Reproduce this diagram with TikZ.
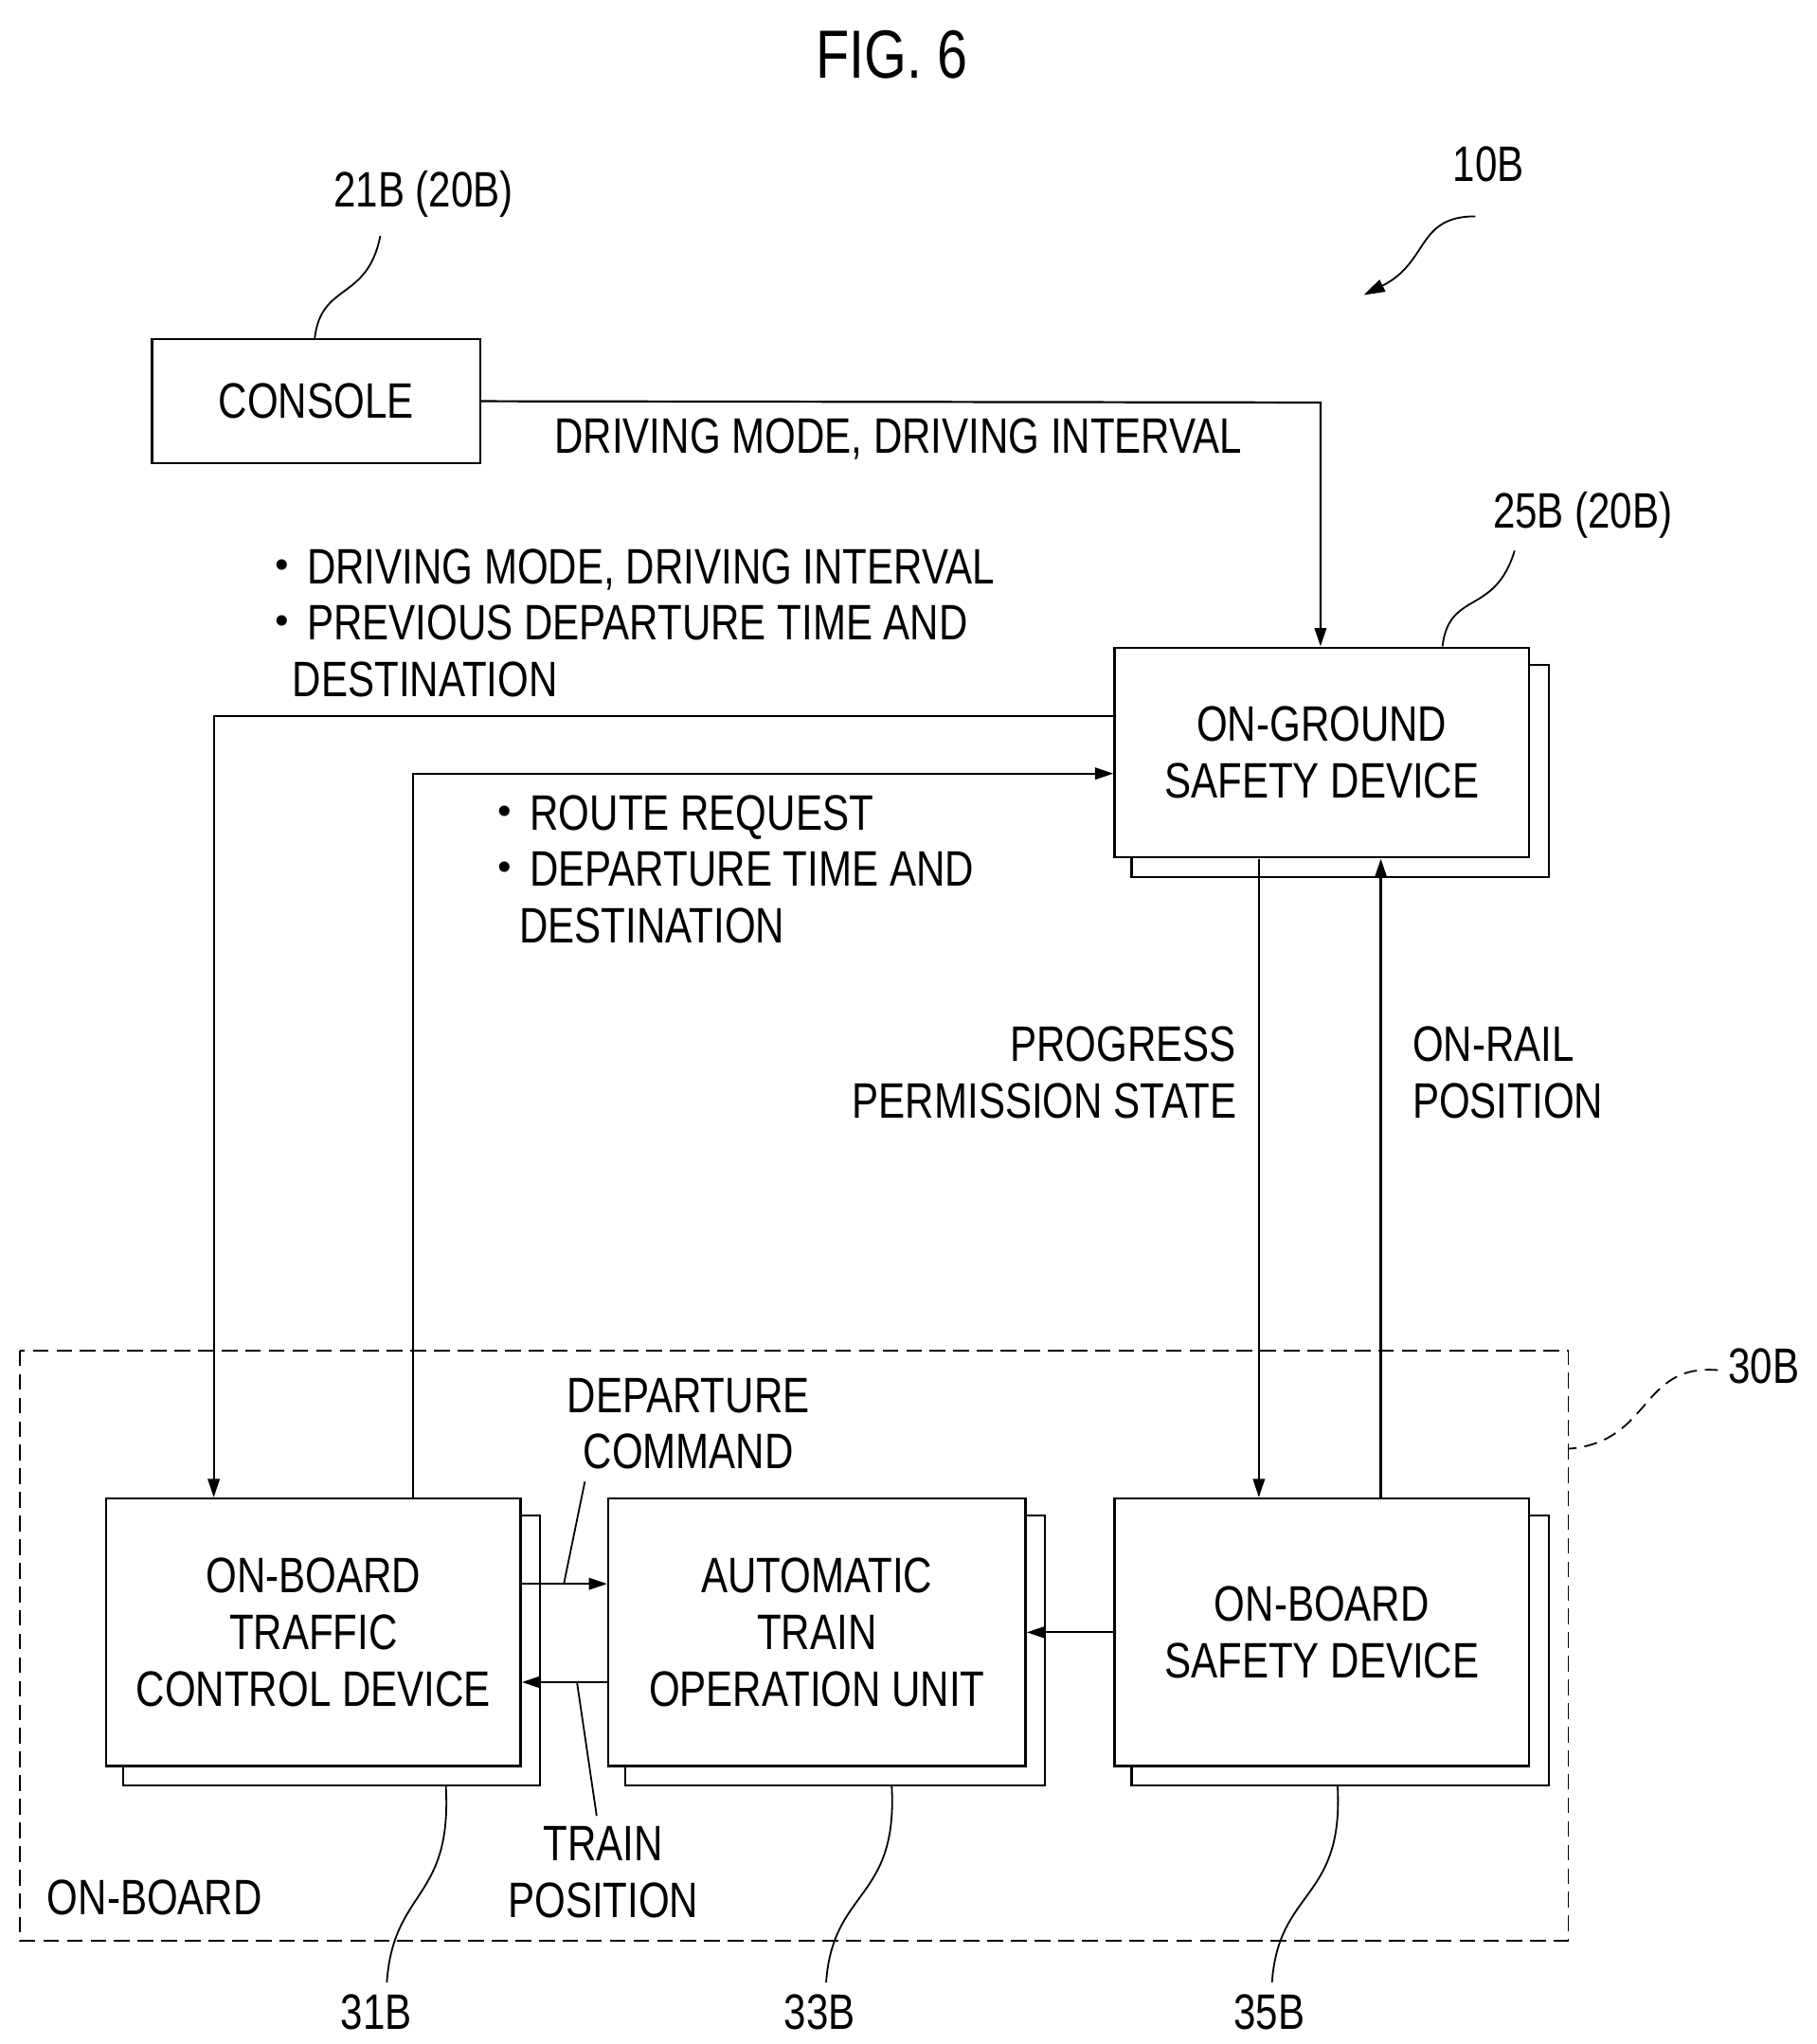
\documentclass[tikz,border=0pt]{standalone}
\usepackage{fontspec}
\setmainfont{Liberation Sans}[FakeStretch=0.8]
\newfontfamily\cjk{Noto Sans CJK JP}
\newcommand{\bul}{{\cjk ・}}
\usetikzlibrary{arrows.meta}
\begin{document}
\begin{tikzpicture}[x=1pt,y=-1pt,
  ln/.style={line width=1.6pt},
  arr/.style={ln,-{Triangle[length=14pt,width=9pt]}},
  txt/.style={font=\fontsize{38}{43}\selectfont,inner sep=0pt,align=center},
  box/.style={draw,line width=1.6pt,fill=white,font=\fontsize{38}{43}\selectfont,align=center,inner sep=0pt},
  lead/.style={line width=1.3pt}]
\useasboundingbox (0,0) rectangle (1385,1559);
\node[font=\fontsize{52}{56}\selectfont] (title) at (680,42) {FIG. 6};
\node[txt] (l10) at (1135,125) {10B};
\coordinate (a10s) at (1125,165); \coordinate (a10e) at (1040,225);
\draw[lead,-{Triangle[length=16pt,width=10pt]}] (a10s) .. controls (1080,165) and (1090,200) .. (a10e);
% console
\node[txt] (l21) at (323,148) {21B (20B)};
\node[box,minimum width=250pt,minimum height=95pt] (con) at (241,306) {CONSOLE};
\coordinate (c21) at (290,180);
\draw[lead] (c21) .. controls (280,230) and (245,215) .. (240,258);
% on-ground
\node[txt] (l25) at (1207,393) {25B (20B)};
\draw[ln] (863,507) rectangle (1181,669);
\node[box,minimum width=316pt,minimum height=160pt] (og) at (1008,574) {ON-GROUND\\SAFETY DEVICE};
\draw[lead] (1155,420) .. controls (1140,470) and (1105,450) .. (1100,493);
\coordinate (k1) at (1007,307);
\draw[arr] (con.east) -- (k1) -- (1007,493);
\node[txt] (t1) at (685,335) {DRIVING MODE, DRIVING INTERVAL};
% on-board boxes
\draw[ln] (94,1156) rectangle (412,1362);
\node[box,minimum width=316pt,minimum height=204pt] (tc) at (239,1245) {ON-BOARD\\TRAFFIC\\CONTROL DEVICE};
\draw[ln] (477,1156) rectangle (797,1362);
\node[box,minimum width=318pt,minimum height=204pt] (ato) at (623,1245) {AUTOMATIC\\TRAIN\\OPERATION UNIT};
\draw[ln] (863,1156) rectangle (1181,1362);
\node[box,minimum width=316pt,minimum height=204pt] (obs) at (1008,1245) {ON-BOARD\\SAFETY DEVICE};
% lines to/from on-ground
\coordinate (p1) at (849,546); \coordinate (p2) at (163,546);
\draw[arr] (p1) -- (p2) -- (163,1142);
\node[txt,anchor=west,align=left] (t2) at (196,475) {\bul DRIVING MODE, DRIVING INTERVAL\\\bul PREVIOUS DEPARTURE TIME AND\\\hspace*{27pt}DESTINATION};
\coordinate (q1) at (315,1142); \coordinate (q2) at (315,590);
\draw[arr] (q1) -- (q2) -- (849,590);
\node[txt,anchor=west,align=left] (t3) at (366,663) {\bul ROUTE REQUEST\\\bul DEPARTURE TIME AND\\\hspace*{30pt}DESTINATION};
\coordinate (r1) at (960,655);
\draw[arr] (r1) -- (960,1142);
\node[txt,anchor=east,align=right] (t4) at (943,818) {PROGRESS\\PERMISSION STATE};
\coordinate (s1) at (1053,1142);
\draw[arr] (s1) -- (1053,655);
\node[txt,anchor=west,align=left] (t5) at (1077,818) {ON-RAIL\\POSITION};
% dashed frame
\draw[lead,dashed,dash pattern=on 12pt off 6pt] (15,1030) rectangle (1196,1480);
\node[txt] (ob) at (118,1447) {ON-BOARD};
\node[txt] (l30) at (1345,1042) {30B};
\draw[lead,dashed,dash pattern=on 10pt off 6pt] (1310,1045) .. controls (1250,1040) and (1260,1100) .. (1196,1105);
% internal arrows
\draw[arr] (398,1208) -- (463,1208);
\draw[arr] (463,1283) -- (398,1283);
\draw[arr] (849,1245) -- (783,1245);
\node[txt] (t6) at (525,1086) {DEPARTURE\\COMMAND};
\draw[lead] (430,1208) -- (446,1130);
\node[txt] (t7) at (460,1428) {TRAIN\\POSITION};
\draw[lead] (440,1283) -- (455,1385);
% reference labels
\node[txt] (l31) at (287,1535) {31B};
\node[txt] (l33) at (625,1535) {33B};
\node[txt] (l35) at (968,1535) {35B};
\draw[lead] (340,1362) .. controls (345,1450) and (300,1440) .. (295,1512);
\draw[lead] (680,1362) .. controls (685,1450) and (635,1440) .. (630,1512);
\draw[lead] (1020,1362) .. controls (1025,1450) and (975,1440) .. (970,1512);
\end{tikzpicture}
\end{document}
